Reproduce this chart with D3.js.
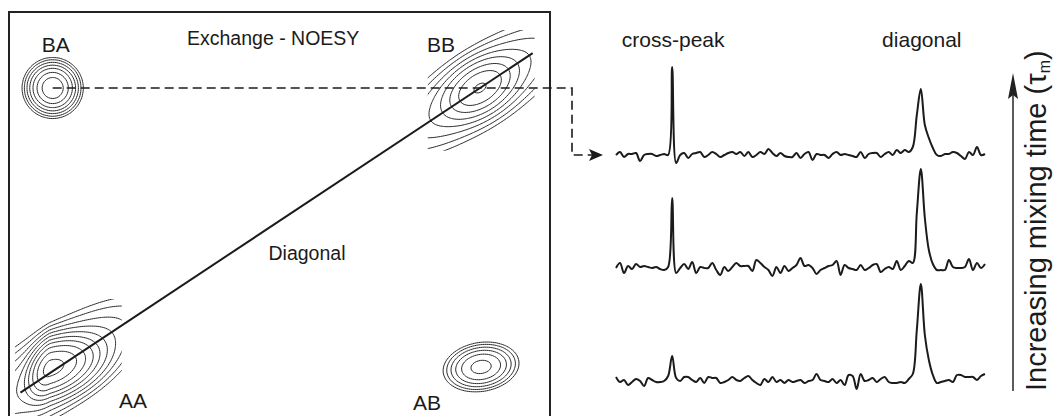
<!DOCTYPE html>
<html>
<head>
<meta charset="utf-8">
<script src="https://cdn.jsdelivr.net/npm/d3@7"></script>
<style>
  html, body { margin: 0; padding: 0; background: #fff; }
  svg { display: block; font-family: "Liberation Sans", Arial, Helvetica, sans-serif; }
</style>
</head>
<body>
<svg id="fig" width="1054" height="416"></svg>
<script>
// ---------------------------------------------------------------
// 2D exchange (NOESY) map: Gaussian line-shape components, in ppm
// ---------------------------------------------------------------
const peakNames = ["AA", "BB", "BA", "AB"];
// spectral region contoured around each peak (ppm)
const regionF2 = [[0.30, 2.35], [7.98, 10.06], [0.25, 1.90], [7.80, 10.20]];
const regionF1 = [[-0.35, 3.15], [7.20, 10.70], [7.50, 10.50], [-0.40, 2.80]];

// components: a core for every peak plus a ridge along the diagonal for AA and BB
const compPeak   = ["AA", "AA", "BB", "BB", "BA", "AB"];
const compF2     = [1.00, 1.00, 9.00, 9.00, 1.05, 9.02];
const compF1     = [1.14, 1.00, 9.00, 9.00, 9.00, 1.17];
const compHeight = [3.00, 0.25, 0.85, 0.20, 0.90, 0.45];
const compSdF2Lo = [0.195, 0.953, 0.334, 0.953, 0.218, 0.303];
const compSdF2Hi = [0.409, 0.953, 0.334, 0.953, 0.218, 0.303];
const compSdF1Lo = [0.393, 1.041, 0.418, 1.041, 0.328, 0.300];
const compSdF1Hi = [0.393, 1.041, 0.418, 1.041, 0.328, 0.300];
const compCorr   = [0.40, 0.775, 0.44, 0.775, 0.00, 0.15];

const contourLevels = [0.03, 0.049, 0.082, 0.134, 0.22, 0.37, 0.6, 1.0, 1.66, 2.7];

// ---------------------------------------------------------------
// 1D rows at increasing mixing time (top = longest), intensity a.u.
// ---------------------------------------------------------------
const traceLong = [
  0, 3, -2, 1, 1, 2, -6, 0, 1, 1, -1, 0, 1, 0, 88, -8, 0, 2, -3, 1,
  2, 3, -2, 0, 3, 1, -2, 0, 2, 3, 1, 3, -1, 3, -2, 0, 3, 1, 6, 2,
  -1, 2, -1, -2, -2, 2, -3, 1, 3, -5, 1, 0, 0, -3, 1, 3, 0, 1, 0, -1,
  -2, 3, -3, 1, 2, 2, -2, 1, 3, 0, 5, 2, 5, 3, 8, 40, 66, 30, 17, 7,
  0, -1, 1, 1, 3, 2, -1, -4, 3, 0, 8, 0, 1
];
const traceMid = [
  0, 5, -5, 2, -1, 4, 1, 2, 1, 0, 1, -1, -2, 1, 70, -5, 0, 4, -1, 6,
  -5, 1, 0, 0, 5, -2, -7, 1, -3, 1, 5, 2, 2, 2, -3, 8, 5, 1, -2, -8,
  1, -5, 2, -3, 0, 3, 10, 2, 3, 0, -6, -2, 0, 2, 3, 7, -7, 3, 0, -1,
  -2, 3, -2, 0, 3, 4, -4, -1, 1, -1, 7, -2, 2, 7, 5, 55, 99, 50, 18, 4,
  -2, -2, -2, 8, 1, 0, 0, 1, 9, -2, 5, 0, 4
];
const traceShort = [
  3, -2, 0, -5, -2, 1, -1, -6, 2, 0, -2, -2, -1, 4, 24, 2, -1, 3, 3, 0,
  -2, 2, -3, 3, 2, 2, -3, -2, 0, 3, 0, -1, 2, 4, 0, -3, -5, 1, -2, 3,
  -2, 0, -3, 0, -2, -1, 0, -3, -1, 0, 6, 0, -1, -2, 1, -3, 0, -5, 5, 4,
  -9, 6, -1, 0, 2, -2, 1, 3, -2, -3, -3, -2, -3, 1, 6, 50, 96, 45, 20, 5,
  -3, -2, -1, 0, -2, 5, 5, 3, 3, 3, 0, 4, 6
];
const traces = [traceLong, traceMid, traceShort];

// text
const titleText = "Exchange - NOESY";
const diagonalText = "Diagonal";
const columnLabels = ["cross-peak", "diagonal"];
const axisLabelText = "Increasing mixing time (\u03C4";
const axisLabelSub = "m";

// ---------------------------------------------------------------
const INK = "#1b1b1b";
const FONT = 21;
const svg = d3.select("#fig");

// 2D map scales (F2 horizontal, F1 vertical)
const x2d = d3.scaleLinear().domain([1, 9]).range([50, 480]);
const y2d = d3.scaleLinear().domain([1, 9]).range([373, 88]);

const components = compPeak.map((p, i) => ({
  peak: p, f2: compF2[i], f1: compF1[i], h: compHeight[i],
  sx0: compSdF2Lo[i], sx1: compSdF2Hi[i], sy0: compSdF1Lo[i], sy1: compSdF1Hi[i],
  rho: compCorr[i]
}));

function intensity(comps, f2, f1) {
  let s = 0;
  for (const c of comps) {
    const dx = f2 - c.f2, dy = f1 - c.f1;
    const u = dx / (dx < 0 ? c.sx0 : c.sx1);
    const v = dy / (dy < 0 ? c.sy0 : c.sy1);
    const q = (u * u - 2 * c.rho * u * v + v * v) / (1 - c.rho * c.rho);
    s += c.h * Math.exp(-0.5 * q);
  }
  return s;
}

const defs = svg.append("defs");
const mapG = svg.append("g").attr("class", "contours");
const STEP = 2;

peakNames.forEach((name, k) => {
  const comps = components.filter(c => c.peak === name);
  const px0 = x2d(regionF2[k][0]), px1 = x2d(regionF2[k][1]);
  const py0 = y2d(regionF1[k][1]), py1 = y2d(regionF1[k][0]);
  const nx = Math.ceil((px1 - px0) / STEP), ny = Math.ceil((py1 - py0) / STEP);
  const values = new Float64Array(nx * ny);
  for (let j = 0; j < ny; j++) {
    const f1 = y2d.invert(py0 + (j + 0.5) * STEP);
    for (let i = 0; i < nx; i++) {
      values[j * nx + i] = intensity(comps, x2d.invert(px0 + (i + 0.5) * STEP), f1);
    }
  }
  const polys = d3.contours().size([nx, ny]).thresholds(contourLevels)(values);
  const proj = d3.geoTransform({
    point(x, y) { this.stream.point(px0 + x * STEP, py0 + y * STEP); }
  });
  const path = d3.geoPath(proj);
  const inset = STEP * 1.3;
  defs.append("clipPath").attr("id", "clip-" + name)
    .append("rect")
    .attr("x", px0 + inset).attr("y", py0 + inset)
    .attr("width", nx * STEP - 2 * inset).attr("height", ny * STEP - 2 * inset);
  mapG.append("g").attr("clip-path", `url(#clip-${name})`)
    .selectAll("path").data(polys).join("path")
    .attr("d", path)
    .attr("fill", "none")
    .attr("stroke", "#2a2a2a")
    .attr("stroke-width", 1)
    .attr("stroke-linejoin", "round");
});

// diagonal
svg.append("line")
  .attr("x1", x2d(0.45)).attr("y1", y2d(0.45))
  .attr("x2", x2d(9.98)).attr("y2", y2d(9.98))
  .attr("stroke", INK).attr("stroke-width", 2);

// frame (open at the bottom edge of the figure)
svg.append("rect")
  .attr("x", 9).attr("y", 12).attr("width", 541).attr("height", 430)
  .attr("fill", "none").attr("stroke", "#222").attr("stroke-width", 2);

// peak labels
const labelOffset = { AA: [83, 40], BB: [-39, -36], BA: [3, -36], AB: [-54, 43] };
peakNames.forEach((name) => {
  const c = components.find(d => d.peak === name);
  svg.append("text")
    .attr("x", x2d(c.f2) + labelOffset[name][0])
    .attr("y", y2d(c.f1) + labelOffset[name][1])
    .attr("text-anchor", "middle")
    .attr("font-size", FONT).attr("fill", INK)
    .text(name);
});

svg.append("text").attr("x", 187).attr("y", 45)
  .attr("font-size", 19.5).attr("fill", INK).text(titleText);
svg.append("text").attr("x", 307).attr("y", 260).attr("text-anchor", "middle")
  .attr("font-size", 19.5).attr("fill", INK).text(diagonalText);

// ---------------------------------------------------------------
// 1D rows
// ---------------------------------------------------------------
const N = traceLong.length;
const xs = d3.scaleLinear().domain([0, N - 1]).range([616, 985]);
const ys = d3.scaleLinear().domain([0, 100]).range([0, -100]);
const baselines = [155, 268, 380];
const line = d3.line().x((d, i) => xs(i)).y(d => ys(d)).curve(d3.curveCatmullRom.alpha(0.5));

traces.forEach((t, k) => {
  svg.append("path")
    .attr("transform", `translate(0,${baselines[k]})`)
    .attr("d", line(t))
    .attr("fill", "none").attr("stroke", INK)
    .attr("stroke-width", 2).attr("stroke-linejoin", "round");
});

// column labels above the cross-peak and the diagonal peak
const crossIdx = d3.maxIndex(traceLong.slice(0, 40));
const diagIdx = 40 + d3.maxIndex(traceLong.slice(40));
[crossIdx, diagIdx].forEach((idx, k) => {
  svg.append("text").attr("x", xs(idx) + 1).attr("y", 47).attr("text-anchor", "middle")
    .attr("font-size", FONT).attr("fill", INK).text(columnLabels[k]);
});

// dashed connector from the BA cross-peak to the top row
const ba = components.find(d => d.peak === "BA");
const cx0 = x2d(ba.f2), cy0 = y2d(ba.f1);
svg.append("path")
  .attr("d", `M${cx0},${cy0}H572V${baselines[0]}H592`)
  .attr("fill", "none").attr("stroke", INK).attr("stroke-width", 1.6)
  .attr("stroke-dasharray", "9,5");
svg.append("path")
  .attr("d", `M603,${baselines[0]}L589,${baselines[0] - 6}L592,${baselines[0]}L589,${baselines[0] + 6}Z`)
  .attr("fill", INK);

// mixing-time arrow
svg.append("line").attr("x1", 1013).attr("y1", 391).attr("x2", 1013).attr("y2", 92)
  .attr("stroke", "#333").attr("stroke-width", 1.6);
svg.append("path").attr("d", "M1013,73L1018,99L1013,95L1008,99Z").attr("fill", "#222");

const VFONT = 29;
const vt = svg.append("text")
  .attr("transform", "translate(1046,391) rotate(-90)")
  .attr("font-size", VFONT).attr("fill", INK);
vt.append("tspan").text(axisLabelText);
vt.append("tspan").attr("font-size", VFONT * 0.55).attr("dy", 4).text(axisLabelSub);
vt.append("tspan").attr("dy", -4).text(")");
</script>
</body>
</html>
